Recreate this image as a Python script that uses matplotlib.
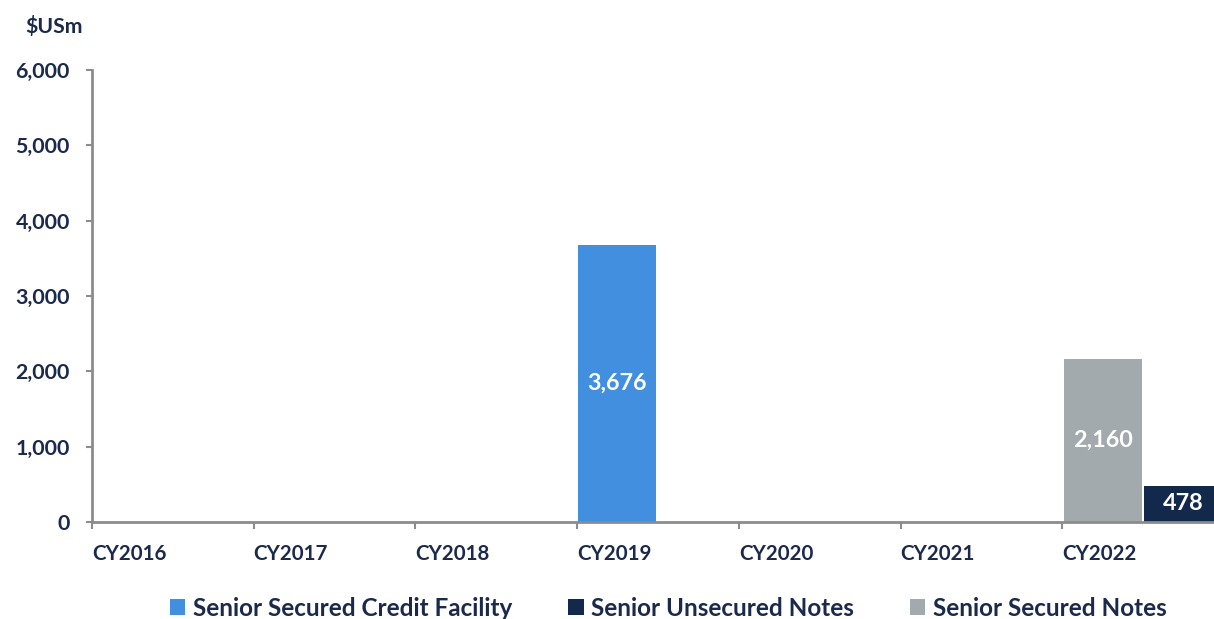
import numpy as np
import matplotlib.pyplot as plt
from matplotlib.patches import Patch

years = ["CY2016", "CY2017", "CY2018", "CY2019", "CY2020", "CY2021", "CY2022"]
series = ["Senior Secured Credit Facility", "Senior Unsecured Notes", "Senior Secured Notes"]
credit_facility = [0, 0, 0, 3676, 0, 0, 0]
unsecured_notes = [0, 0, 0, 0, 0, 0, 478]
secured_notes = [0, 0, 0, 0, 0, 0, 2160]

colors = ["#418FDE", "#13294B", "#A2AAAD"]
txt = "#1B2A4A"
plt.rcParams['font.family'] = ['Lato', 'DejaVu Sans']
plt.rcParams['font.weight'] = 'bold'

W, H = 1214, 619
fig = plt.figure(figsize=(W / 100, H / 100), dpi=100)
# axes: x from 92 to 1224 px, y from 522 (0) to 70 (6000)
ax = fig.add_axes([92 / W, (H - 522) / H, (1224 - 92) / W, (522 - 70) / H])

x = np.arange(len(years))
bw = 0.4825
# slot offsets from category left boundary
left0 = x - 0.5 + 0.008
left1 = x - 0.5 + 0.505
vals = [credit_facility, unsecured_notes, secured_notes]
lefts = [left0, left1, left0]
for v, l, c in zip(vals, lefts, colors):
    v = np.array(v)
    bars = ax.bar(l, v, width=bw, align='edge', color=c, zorder=2)
    for b, val in zip(bars, v):
        if val > 0:
            ax.text(b.get_x() + b.get_width() / 2, val / 2, f"{val:,}",
                    ha='center', va='center', color='white', fontsize=16.8,
                    fontweight='bold', zorder=3)

ax.set_xlim(-0.5, 6.5)
ax.set_ylim(0, 6000)
ax.set_yticks(np.arange(0, 6001, 1000))
ax.set_yticklabels([f"{t:,}" for t in range(0, 6001, 1000)], fontsize=15.4,
                   color=txt, fontweight='bold')
ax.set_xticks(x - 0.5)
ax.set_xticklabels(years, fontsize=14.8, color=txt, fontweight='bold', ha='left')
ax.tick_params(axis='y', length=4.5, width=1.5, color='#8C8C8C', pad=11.5)
ax.tick_params(axis='x', length=5, width=1.5, color='#8C8C8C', pad=11)

for s in ['top', 'right']:
    ax.spines[s].set_visible(False)
for s in ['left', 'bottom']:
    ax.spines[s].set_color('#8C8C8C')
    ax.spines[s].set_linewidth(2)

fig.text(25 / W, 1 - 27 / H, "$USm", fontsize=15.3, color=txt,
         fontweight='bold', ha='left', va='center')

handles = [Patch(facecolor=c) for c in colors]
fig.legend(handles, series, loc='center', bbox_to_anchor=(668 / W, 1 - 608 / H),
           ncol=3, frameon=False, handlelength=0.65,
           handleheight=0.65, handletextpad=0.3, columnspacing=2.3,
           labelcolor=txt, prop={'weight': 'bold', 'size': 17.5})

fig.savefig("out.png", dpi=100)
